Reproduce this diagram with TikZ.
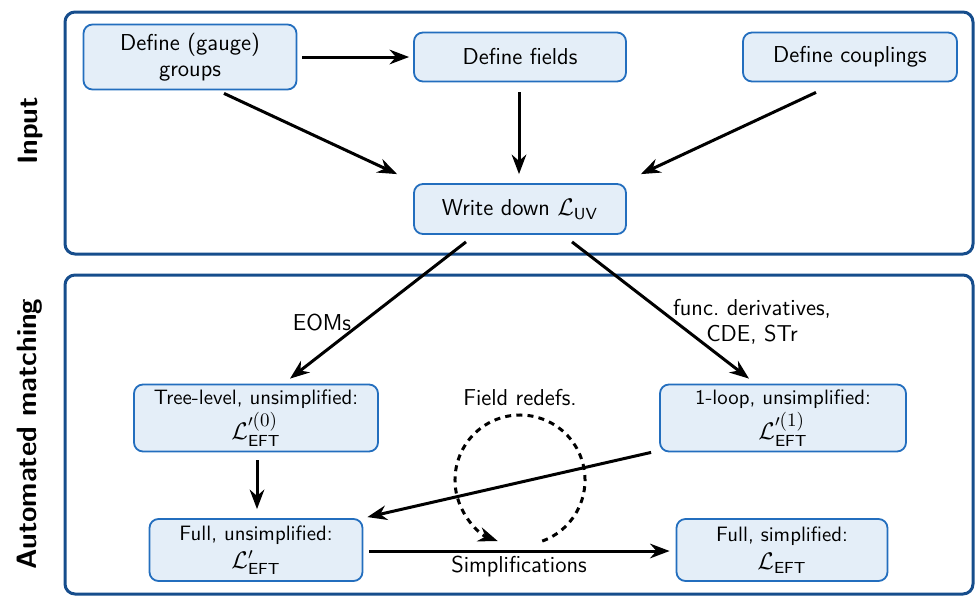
\documentclass[tikz,border=0pt]{standalone}
\usetikzlibrary{arrows.meta,calc}
\renewcommand{\familydefault}{\sfdefault}
\definecolor{frameblue}{RGB}{22,77,140}
\definecolor{boxblue}{RGB}{35,110,190}
\definecolor{boxfill}{RGB}{228,238,248}
\newcommand{\mathline}[1]{{\fontsize{12}{14}\selectfont$#1$}}
\newcommand{\ordsup}[1]{\mbox{\fontsize{9.5}{10}\selectfont\rmfamily(#1)}}
\begin{document}
\begin{tikzpicture}[x=0.5pt,y=-0.5pt,
  font=\fontsize{11.5}{13}\selectfont,
  frame/.style={draw=frameblue,line width=1.5pt,rounded corners=5pt},
  stepbox/.style={draw=boxblue,fill=boxfill,line width=0.9pt,rounded corners=4.5pt,align=center,inner sep=1pt},
  lowbox/.style={stepbox,font=\fontsize{10.4}{12.5}\selectfont},
  arr/.style={-{Stealth},line width=1.5pt},
  lab/.style={align=center,inner sep=1pt},
  side/.style={rotate=90,font=\fontsize{14}{16}\selectfont\bfseries}]
\useasboundingbox (0,0) rectangle (975,596);
\draw[frame] (65,12) rectangle (973,254);
\draw[frame] (65,275) rectangle (973,594);
\node[side] (inlab) at (30,131) {Input};
\node[side] (amlab) at (30,434) {Automated matching};

\node[stepbox,minimum width=106.5pt,minimum height=32.5pt] (groups) at (190,57) {Define (gauge)\\groups};
\node[stepbox,minimum width=106pt,minimum height=24.5pt] (fields) at (520,57) {Define fields};
\node[stepbox,minimum width=107pt,minimum height=24.5pt] (coupl) at (850,57) {Define couplings};
\node[stepbox,minimum width=106pt,minimum height=25pt] (luv) at (520,209) {Write down $\mathcal{L}_{\mathsf{UV}}$};
\node[lowbox,minimum width=122pt,minimum height=33.5pt] (tree) at (256,418) {Tree-level, unsimplified:\\[1pt]\mathline{\mathcal{L}'^{\ordsup{0}}_{\mathsf{EFT}}}};
\node[lowbox,minimum width=123pt,minimum height=33.5pt] (loop) at (783,418) {1-loop, unsimplified:\\[1pt]\mathline{\mathcal{L}'^{\ordsup{1}}_{\mathsf{EFT}}}};
\node[lowbox,minimum width=106.5pt,minimum height=31pt] (full) at (256,550) {Full, unsimplified:\\[1.5pt]\mathline{\mathcal{L}'_{\mathsf{EFT}}}};
\node[lowbox,minimum width=105.5pt,minimum height=31pt] (simp) at (782,550) {Full, simplified:\\[1.5pt]\mathline{\mathcal{L}_{\mathsf{EFT}}}};

\draw[arr] ($(groups.east)+(5,0)$) -- ($(fields.west)+(-4,0)$);
\draw[arr] ($(groups.south)+(34,3)$) -- ($(luv.north west)+(-16,-9)$);
\draw[arr] ($(fields.south)+(-1,10)$) -- ($(luv.north)+(-1,-9)$);
\draw[arr] ($(coupl.south)+(-34,10)$) -- ($(luv.north east)+(14,-9)$);
\draw[arr] ($(luv.south)+(-54,7)$) -- ($(tree.north)+(34,-5)$);
\node[lab] (eoms) at (322,323) {EOMs};
\draw[arr] ($(luv.south)+(52,7)$) -- ($(loop.north)+(-34,-5)$);
\node[lab] (fd) at (752,322) {func.\ derivatives,\\CDE, STr};
\draw[arr] ($(tree.south)+(1,8)$) -- ($(full.north)+(1,-9)$);
\draw[arr] ($(loop.south west)+(-8,0)$) -- ($(full.north east)+(4,-1)$);
\draw[arr] ($(full.east)+(6,1)$) -- ($(simp.west)+(-6,1)$);
\node[lab] (simpl) at (519,566) {Simplifications};

\coordinate (circ) at (520,480);
\draw[-{Stealth},line width=1.5pt,dash pattern=on 3pt off 2.6pt] (circ) ++(-70:32.5pt) arc[start angle=-70,end angle=250,radius=32.5pt];
\node[lab] (fr) at (520,398) {Field redefs.};
\end{tikzpicture}
\end{document}
